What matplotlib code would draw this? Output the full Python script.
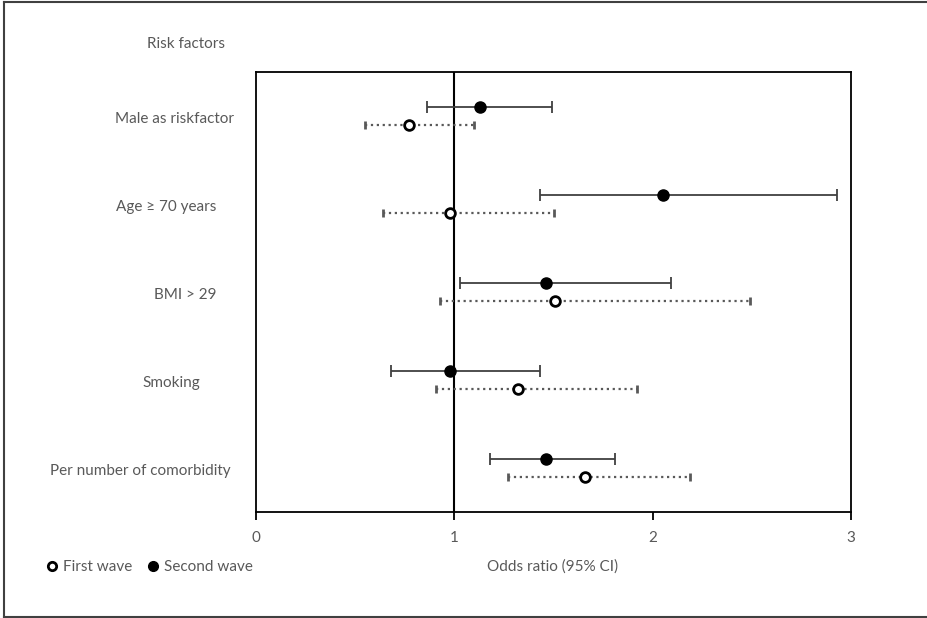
import numpy as np
import matplotlib.pyplot as plt
from matplotlib.lines import Line2D

plt.rcParams['font.family'] = ['Lato', 'DejaVu Sans']

# Данные
factors = ['Male as riskfactor', 'Age \u2265 70 years', 'BMI > 29', 'Smoking',
           'Per number of comorbidity']
second_or = [1.13, 2.05, 1.46, 0.98, 1.46]
second_lo = [0.86, 1.43, 1.03, 0.68, 1.18]
second_hi = [1.49, 2.93, 2.09, 1.43, 1.81]
first_or = [0.77, 0.98, 1.51, 1.32, 1.66]
first_lo = [0.55, 0.64, 0.93, 0.91, 1.27]
first_hi = [1.10, 1.50, 2.49, 1.92, 2.19]

txt = '#595959'
fig = plt.figure(figsize=(9.28, 6.18), dpi=100)
ax = fig.add_axes([256/928, 106/618, 595/928, 440/618])

y = np.arange(len(factors))[::-1] + 0.5
y2 = y + 0.1
y1 = y - 0.1

s = np.array(second_or)
f = np.array(first_or)
ax.errorbar(s, y2, xerr=[s - np.array(second_lo), np.array(second_hi) - s],
            fmt='o', color='black', ms=8, ecolor='#404040', elinewidth=1.3,
            capsize=4, capthick=1.3, zorder=3)
eb = ax.errorbar(f, y1, xerr=[f - np.array(first_lo), np.array(first_hi) - f],
                 fmt='o', mfc='white', mec='black', mew=2, ms=7,
                 ecolor='#595959', elinewidth=1.6, capsize=4, capthick=1.6, zorder=3)
for c in eb[2]:
    c.set_linestyle(':')
for c in eb[1]:
    c.set_marker('|')
    c.set_markersize(6)

ax.axvline(1, color='black', linewidth=1.5, zorder=2)
ax.set_xlim(0, 3)
ax.set_ylim(0, 5)
ax.set_xticks([0, 1, 2, 3])
ax.set_yticks([])
ax.tick_params(axis='x', direction='out', length=6, width=1.3, colors='black',
               labelcolor=txt, labelsize=11, pad=8)
for sp in ax.spines.values():
    sp.set_linewidth(1.3)
    sp.set_color('black')

# Подписи факторов
label_x = [115, 116, 154, 142, 50]
for name, yy, lx in zip(factors, y, label_x):
    fig.text(lx/928, (ax.transData.transform((0, yy))[1] - 3)/618, name,
             ha='left', va='center', color=txt, fontsize=11)
fig.text(147/928, 1 - 44/618, 'Risk factors', ha='left', va='center',
         color=txt, fontsize=11)
fig.text(553/928, 1 - 567/618, 'Odds ratio (95% CI)', ha='center', va='center',
         color=txt, fontsize=11)

# Легенда
h1 = Line2D([], [], marker='o', ls='none', mfc='white', mec='black', mew=2, ms=6)
h2 = Line2D([], [], marker='o', ls='none', color='black', ms=7)
fig.legend([h1, h2], ['First wave', 'Second wave'], loc='center left',
           bbox_to_anchor=(46/928, 1 - 567/618), ncol=2, frameon=False,
           handlelength=0.8, handletextpad=0.3, columnspacing=1.0,
           fontsize=11, labelcolor=txt, borderaxespad=0, borderpad=0)

# Рамка вокруг рисунка
for xs, ys in [([4, 4], [1, 616]), ([4, 928], [616, 616]), ([4, 928], [1, 1])]:
    fig.add_artist(Line2D(np.array(xs)/928, np.array(ys)/618, color='#404040',
                          linewidth=1.5))

fig.savefig('out.png', dpi=100)
